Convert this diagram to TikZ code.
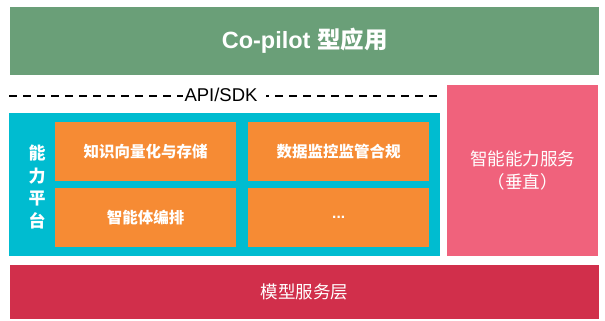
\documentclass[tikz,border=0pt]{standalone}
\usepackage{fontspec}
\setmainfont{Liberation Sans}
\newfontfamily\cjk{Noto Sans CJK SC}
\definecolor{appgreen}{HTML}{6A9F78}
\definecolor{platcyan}{HTML}{00BCD0}
\definecolor{modorange}{HTML}{F68B34}
\definecolor{svcpink}{HTML}{F0627C}
\definecolor{layerred}{HTML}{D12F4B}
\tikzset{
  block/.style={rectangle, inner sep=0pt, anchor=north west, text=white},
  module/.style={block, fill=modorange, minimum width=181pt, minimum height=59pt,
    font=\cjk\bfseries\fontsize{15.5}{18}\selectfont},
}
\begin{document}
\begin{tikzpicture}[x=1pt, y=-1pt]
\useasboundingbox (0,0) rectangle (605,321);

% application layer
\node[block, fill=appgreen, minimum width=589pt, minimum height=68pt,
  font=\bfseries\fontsize{23.5}{26}\selectfont] (app) at (10,7)
  {Co-pilot {\cjk 型应用}};

% API/SDK boundary: dashed rule with the label set on a white patch
\coordinate (dl) at (9,96);
\coordinate (dr) at (438,96);
\draw[dash pattern=on 8pt off 6pt, line width=2pt] (dl) -- (dr);
\node[fill=white, inner xsep=0pt, inner ysep=1.5pt, text width=83pt, align=left,
  font=\fontsize{18.5}{20}\selectfont] (api) at (224.5,95) {\hspace*{1.5pt}API/SDK};

% capability platform
\node[block, fill=platcyan, minimum width=431pt, minimum height=143pt] (plat) at (9,113) {};
\node[text=white, align=center, inner sep=0pt,
  font=\cjk\bfseries\fontsize{17}{22.5}\selectfont] (platlabel) at (37,187) {能\\力\\平\\台};
\node[module] (vec) at (55,122) {知识向量化与存储};
\node[module] (mon) at (248,122) {数据监控监管合规};
\node[module] (agent) at (55,188) {智能体编排};
\node[module, font=\bfseries\fontsize{15.5}{18}\selectfont] (more) at (248,188) {...};

% vertical services
\node[block, fill=svcpink, minimum width=151pt, minimum height=171pt, align=center,
  font=\cjk\fontsize{17.5}{23}\selectfont] (svc) at (447,85) {智能能力服务\\（垂直）};

% model serving layer
\node[block, fill=layerred, minimum width=589pt, minimum height=54pt,
  font=\cjk\fontsize{17.5}{20}\selectfont] (model) at (10,265) {模型服务层};
\end{tikzpicture}
\end{document}
